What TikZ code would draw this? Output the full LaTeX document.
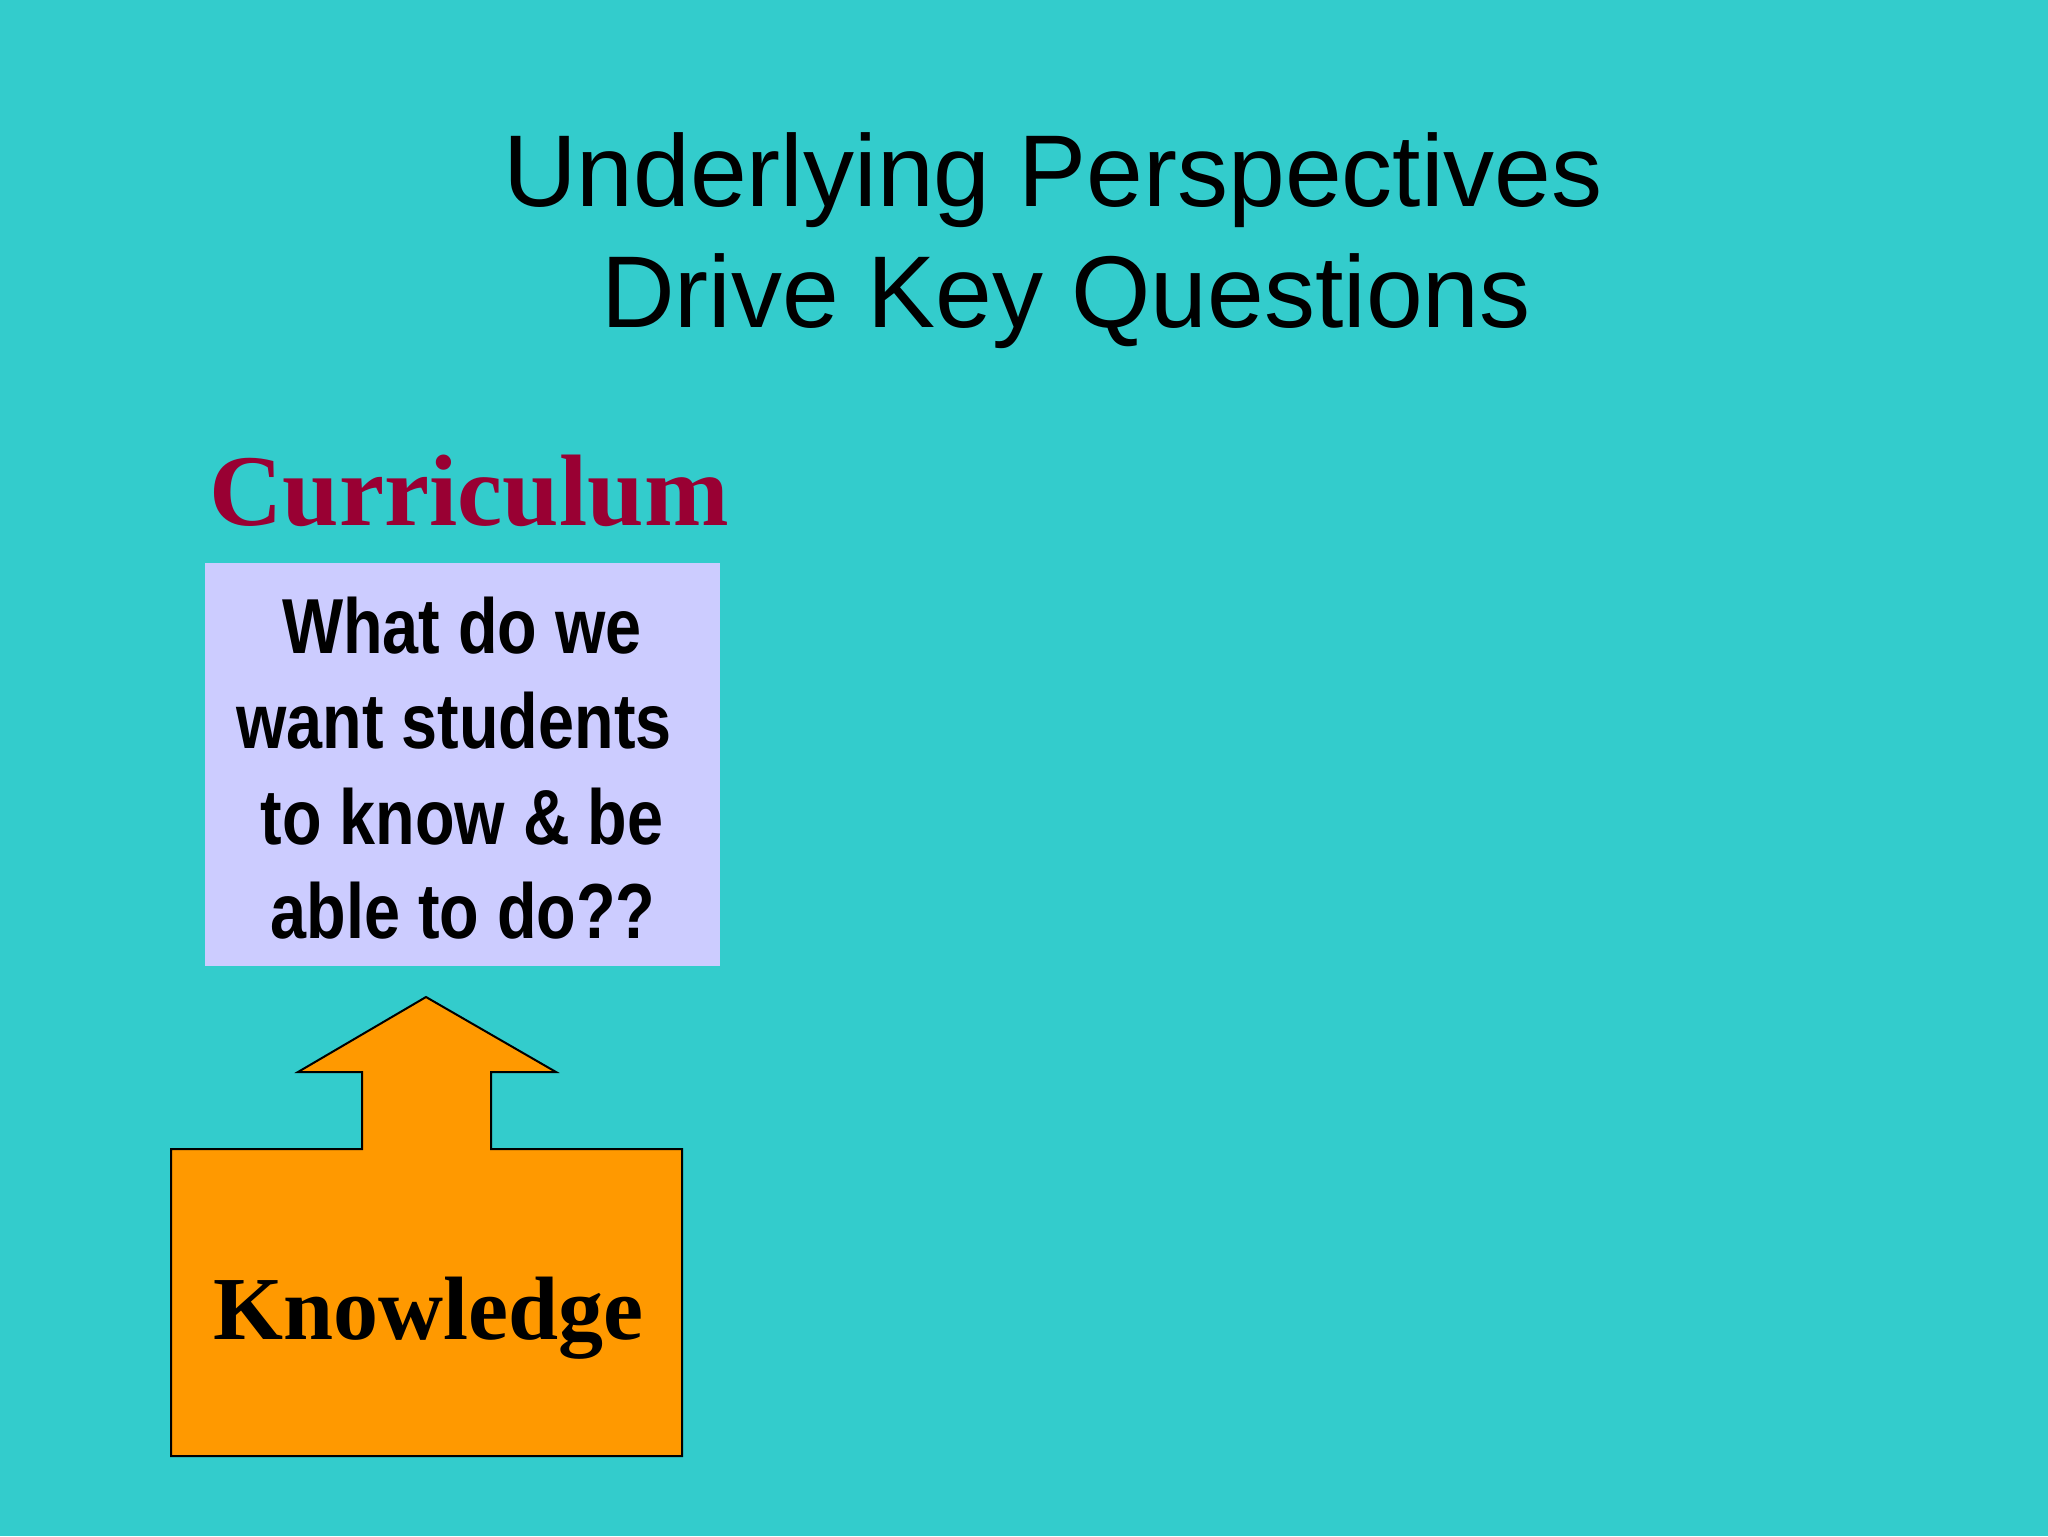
\documentclass[tikz,border=0pt]{standalone}
\usepackage{fontspec}
\setmainfont{Liberation Serif}
\newfontfamily\arialfont{Liberation Sans}
\newfontfamily\narrowfont[FakeStretch=0.83]{Liberation Sans}
\definecolor{bgteal}{HTML}{33CCCC}
\definecolor{lavender}{HTML}{CCCCFF}
\definecolor{orangefill}{HTML}{FF9900}
\definecolor{maroon}{HTML}{990033}
\tikzset{
  titletext/.style={anchor=base, inner sep=0pt, font=\arialfont\fontsize{51}{60}\selectfont},
  qtext/.style={anchor=base, inner sep=0pt, font=\narrowfont\bfseries\fontsize{39}{47}\selectfont},
  headtext/.style={anchor=base west, inner sep=0pt, text=maroon, font=\bfseries\fontsize{50.8}{60}\selectfont},
  qbox/.style={fill=lavender, draw=none},
  arrowshape/.style={fill=orangefill, draw=black, line width=1pt, line join=miter},
  knowtext/.style={anchor=base, inner sep=0pt, font=\bfseries\fontsize{45}{54}\selectfont}
}
\begin{document}
\begin{tikzpicture}[x=0.5pt, y=-0.5pt]
\useasboundingbox (0,0) rectangle (2048,1536);
\fill[bgteal] (0,0) rectangle (2048,1536);
% title
\node[titletext] (t1) at (1053,206) {Underlying Perspectives};
\node[titletext] (t2) at (1066,327) {Drive Key Questions};
% curriculum heading
\node[headtext] (cur) at (209,525) {Curriculum};
% question box
\path[qbox] (205,563) rectangle (720,966);
\coordinate (qbox) at (462,764);
\node[qtext] (q1) at (462,653) {What do we};
\node[qtext] (q2) at (454,748) {want students};
\node[qtext] (q3) at (462,844) {to know \& be};
\node[qtext] (q4) at (463,938) {able to do??};
% arrow + knowledge box
\draw[arrowshape] (426,997) -- (556,1072) -- (491,1072) -- (491,1149) -- (682,1149)
  -- (682,1456) -- (171,1456) -- (171,1149) -- (362,1149) -- (362,1072) -- (298,1072) -- cycle;
\node[knowtext] (know) at (428,1339) {Knowledge};
\end{tikzpicture}
\end{document}
